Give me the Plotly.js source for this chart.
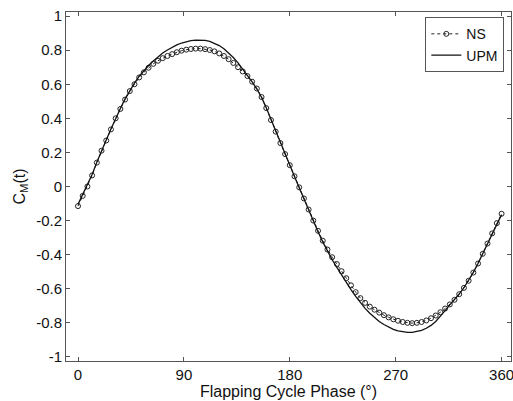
<!DOCTYPE html>
<html>
<head>
<meta charset="utf-8">
<script src="https://cdn.plot.ly/plotly-3.0.1.min.js"></script>
<style>html,body{margin:0;padding:0;background:#fff;}#chart{width:513px;height:401px;}</style>
</head>
<body>
<div id="chart"></div>
<script>
var phase = [0,4,8,12,16,20,24,28,32,36,
  40,44,48,52,56,60,64,68,72,76,
  80,84,88,92,96,100,104,108,112,116,
  120,124,128,132,136,140,144,148,152,156,
  160,164,168,172,176,180,184,188,192,196,
  200,204,208,212,216,220,224,228,232,236,
  240,244,248,252,256,260,264,268,272,276,
  280,284,288,292,296,300,304,308,312,316,
  320,324,328,332,336,340,344,348,352,356,360];

var nsValues = [-0.115,-0.055,0.000,0.065,0.140,0.210,0.270,0.335,0.400,0.455,
  0.510,0.560,0.600,0.640,0.670,0.697,0.720,0.738,0.753,0.766,
  0.777,0.788,0.797,0.803,0.807,0.809,0.809,0.806,0.801,0.793,
  0.781,0.766,0.747,0.725,0.700,0.675,0.648,0.615,0.575,0.525,
  0.460,0.390,0.322,0.255,0.190,0.125,0.060,-0.005,-0.070,-0.135,
  -0.200,-0.260,-0.318,-0.370,-0.415,-0.455,-0.497,-0.538,-0.580,-0.620,
  -0.655,-0.683,-0.705,-0.723,-0.740,-0.755,-0.768,-0.779,-0.788,-0.795,
  -0.800,-0.802,-0.800,-0.795,-0.786,-0.773,-0.757,-0.738,-0.716,-0.692,
  -0.665,-0.632,-0.595,-0.553,-0.505,-0.452,-0.395,-0.335,-0.275,-0.215,-0.160];

var upmValues = [-0.105,-0.048,0.008,0.070,0.143,0.212,0.273,0.338,0.402,0.458,
  0.514,0.564,0.607,0.647,0.680,0.710,0.737,0.762,0.783,0.801,
  0.817,0.831,0.842,0.851,0.856,0.859,0.860,0.857,0.851,0.841,
  0.827,0.808,0.785,0.757,0.725,0.690,0.652,0.614,0.572,0.523,
  0.462,0.393,0.325,0.258,0.191,0.125,0.058,-0.008,-0.074,-0.140,
  -0.205,-0.266,-0.325,-0.380,-0.430,-0.475,-0.520,-0.563,-0.605,-0.645,
  -0.682,-0.715,-0.744,-0.770,-0.792,-0.810,-0.826,-0.838,-0.847,-0.853,
  -0.856,-0.856,-0.852,-0.844,-0.832,-0.815,-0.792,-0.763,-0.728,-0.695,
  -0.664,-0.631,-0.594,-0.552,-0.504,-0.451,-0.394,-0.335,-0.276,-0.217,-0.165];

var xTickVals = [0,90,180,270,360];
var xTickText = ['0','90','180','270','360'];
var yTickVals = [-1,-0.8,-0.6,-0.4,-0.2,0,0.2,0.4,0.6,0.8,1];
var yTickText = ['-1','-0.8','-0.6','-0.4','-0.2','0','0.2','0.4','0.6','0.8','1'];

var traces = [
  {x: phase, y: nsValues, name: 'NS', type: 'scatter', mode: 'lines+markers',
   line: {color: '#222', width: 1, dash: 'dot'},
   marker: {symbol: 'circle-open', size: 5, color: '#222', line: {width: 1, color: '#222'}}},
  {x: phase, y: upmValues, name: 'UPM', type: 'scatter', mode: 'lines',
   line: {color: '#111', width: 1.3}}
];

var axisCommon = {
  showgrid: false, zeroline: false, showline: true, linecolor: '#555', linewidth: 1,
  mirror: 'ticks', ticks: 'inside', ticklen: 4, tickcolor: '#555',
  ticklabeloverflow: 'allow',
  tickfont: {family: 'Liberation Sans, Arial, sans-serif', size: 15, color: '#111'}
};

var layout = {
  width: 513, height: 401,
  margin: {l: 66, r: 2, t: 12, b: 40},
  paper_bgcolor: '#fff', plot_bgcolor: '#fff',
  font: {family: 'Liberation Sans, Arial, sans-serif', color: '#111'},
  showlegend: true,
  legend: {x: 0.985, xanchor: 'right', y: 0.985, yanchor: 'top',
    bgcolor: '#fff', bordercolor: '#555', borderwidth: 1,
    font: {family: 'Liberation Sans, Arial, sans-serif', size: 14, color: '#111'},
    itemwidth: 30, tracegroupgap: 0},
  xaxis: Object.assign({}, axisCommon, {
    range: [-10.2, 368], tickvals: xTickVals, ticktext: xTickText,
    title: {text: 'Flapping Cycle Phase (°)', standoff: 0,
      font: {family: 'Liberation Sans, Arial, sans-serif', size: 16, color: '#111'}}
  }),
  yaxis: Object.assign({}, axisCommon, {
    range: [-1.024, 1.024], tickvals: yTickVals, ticktext: yTickText,
    title: {text: 'C<sub>M</sub>(t)', standoff: 6,
      font: {family: 'Liberation Sans, Arial, sans-serif', size: 16, color: '#111'}}
  })
};

Plotly.newPlot('chart', traces, layout, {displayModeBar: false, staticPlot: true});
</script>
</body>
</html>
